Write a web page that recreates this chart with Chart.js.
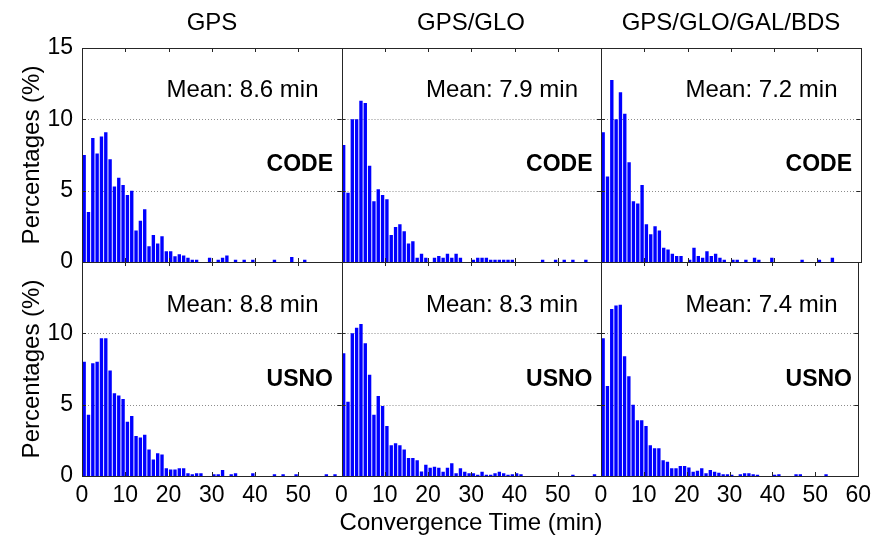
<!DOCTYPE html>
<html>
<head>
<meta charset="utf-8">
<script src="https://cdn.jsdelivr.net/npm/chart.js@4/dist/chart.umd.min.js"></script>
<style>
  html, body { margin: 0; padding: 0; background: #ffffff; }
  #wrap { position: relative; width: 877px; height: 541px; overflow: hidden; font-family: "Liberation Sans", Arial, sans-serif; color: #000; }
  canvas.panel { position: absolute; left: 0; top: 0; }
  .txt { position: absolute; white-space: nowrap; line-height: 30px; height: 30px; font-size: 24px; }
  .c { transform: translateX(-50%); }
  .r { transform: translateX(-100%); }
  .b { font-weight: bold; font-size: 23px; }
  .rot { transform: translate(-50%, -50%) rotate(-90deg); }
</style>
</head>
<body>
<div id="wrap">
  <canvas class="panel" id="p0" width="877" height="541"></canvas>
  <canvas class="panel" id="p1" width="877" height="541"></canvas>
  <canvas class="panel" id="p2" width="877" height="541"></canvas>
  <canvas class="panel" id="p3" width="877" height="541"></canvas>
  <canvas class="panel" id="p4" width="877" height="541"></canvas>
  <canvas class="panel" id="p5" width="877" height="541"></canvas>

  <div class="txt c" style="left:212px; top:7px;">GPS</div>
  <div class="txt c" style="left:471px; top:7px;">GPS/GLO</div>
  <div class="txt c" style="left:731px; top:7px;">GPS/GLO/GAL/BDS</div>

  <div class="txt r" style="left:318.5px; top:74px;">Mean: 8.6 min</div>
  <div class="txt r" style="left:578px; top:74px;">Mean: 7.9 min</div>
  <div class="txt r" style="left:837.5px; top:74px;">Mean: 7.2 min</div>
  <div class="txt r" style="left:318.5px; top:289px;">Mean: 8.8 min</div>
  <div class="txt r" style="left:578px; top:289px;">Mean: 8.3 min</div>
  <div class="txt r" style="left:837.5px; top:289px;">Mean: 7.4 min</div>

  <div class="txt r b" style="left:333px; top:148px;">CODE</div>
  <div class="txt r b" style="left:592.5px; top:148px;">CODE</div>
  <div class="txt r b" style="left:852px; top:148px;">CODE</div>
  <div class="txt r b" style="left:333px; top:363px;">USNO</div>
  <div class="txt r b" style="left:592.5px; top:363px;">USNO</div>
  <div class="txt r b" style="left:852px; top:363px;">USNO</div>

  <div class="txt rot" style="left:31px; top:155px;">Percentages (%)</div>
  <div class="txt rot" style="left:31px; top:369px;">Percentages (%)</div>
  <div class="txt c" style="left:471px; top:507px;">Convergence Time (min)</div>
</div>

<script>
// ---- data: histogram bins of 1 minute (bin start, minutes) ----
const binStart = [0,1,2,3,4,5,6,7,8,9,10,11,12,13,14,15,16,17,18,19,
                  20,21,22,23,24,25,26,27,28,29,30,31,32,33,34,35,36,37,38,39,
                  40,41,42,43,44,45,46,47,48,49,50,51,52,53,54,55,56,57,58,59];

const xTickLabels = [0, 10, 20, 30, 40, 50, 60];
const yTickLabels = [0, 5, 10, 15];

const systems = ["GPS", "GPS/GLO", "GPS/GLO/GAL/BDS"];
const products = ["CODE", "USNO"];

// Percentages (%) per bin
const gpsCode = [7.5,3.5,8.7,7.6,8.8,9.1,7.2,5.3,5.9,5.4,4.7,5.0,2.2,2.9,3.7,1.1,1.9,1.3,1.8,0.75,
                 0.75,0.4,0.55,0.45,0.3,0.15,0.15,0,0,0.3,0,0.15,0.3,0.45,0,0.15,0,0.15,0,0.15,
                 0,0,0,0,0.15,0,0,0,0.35,0,0,0.15,0,0,0,0,0,0,0,0];
const gloCode = [8.2,4.85,10.0,10.0,11.3,11.15,6.75,4.25,5.1,4.7,4.4,1.9,2.45,2.65,2.15,1.3,1.45,0.3,0.58,0.3,
                 0,0.3,0.42,0.3,0.58,0.3,0.58,0.3,0,0,0.15,0.3,0.3,0.3,0.15,0.15,0.15,0.15,0.15,0.15,
                 0,0,0,0,0,0,0.15,0,0,0.15,0,0.15,0,0.15,0,0,0.15,0,0,0];
const allCode = [9.1,6.0,12.75,10.0,11.9,10.4,7.0,4.25,4.1,5.4,2.65,1.95,2.5,2.2,1.0,0.88,0.58,0.42,0.42,0,
                 0.15,1.0,0.42,0.3,0.75,0.42,0.58,0.3,0.15,0,0.15,0.15,0,0.15,0,0.3,0.15,0,0,0.3,
                 0,0,0,0,0,0,0.15,0,0,0,0.15,0,0,0.3,0,0,0,0,0,0];
const gpsUsno = [8.0,4.3,7.9,8.0,9.65,9.65,7.4,5.8,5.65,5.4,3.8,4.2,2.8,2.7,2.9,1.85,1.15,1.6,1.5,0.55,
                 0.45,0.45,0.55,0.55,0.2,0.12,0.2,0.2,0,0,0.12,0.12,0.42,0,0.12,0.2,0,0,0,0.2,
                 0,0,0,0,0.12,0,0.12,0,0,0.12,0,0,0,0,0,0,0.12,0,0.12,0];
const gloUsno = [8.6,5.2,10.0,10.4,10.65,9.3,7.1,4.3,5.6,4.9,3.5,2.15,2.3,2.15,1.85,1.27,1.27,1.1,0.32,0.78,
                 0.58,0.65,0.58,0.3,0.58,0.9,0.2,0.55,0.3,0.2,0.2,0.08,0.3,0.08,0.08,0.2,0.3,0.2,0.08,0.12,
                 0.2,0.12,0,0,0,0,0,0,0,0,0,0,0,0.08,0,0,0,0,0.12,0];
const allUsno = [9.65,6.3,11.7,11.95,12.0,8.4,7.0,5.0,3.9,3.9,3.5,2.15,1.95,1.95,1.1,1.0,0.55,0.55,0.7,0.7,
                 0.6,0.3,0.37,0.55,0.2,0.42,0.3,0.23,0.12,0.12,0.08,0,0.12,0.2,0.2,0.12,0.08,0,0,0,
                 0.08,0.12,0,0,0,0.12,0.12,0,0,0,0,0,0.12,0,0,0,0,0,0,0];

const panelSeries = [gpsCode, gloCode, allCode, gpsUsno, gloUsno, allUsno];

// ---- layout ----
const W = 877, H = 541;
const colX = [82, 341.5, 601, 860.5];
const rowY = [48, 262, 476];
const YBOX = 45, XBOX = 40;   // space reserved for tick labels (scale boxes)
const FONT = "'Liberation Sans', Arial, sans-serif";
const FRAME = '#262626';

const framePlugin = {
  id: 'frame',
  beforeDatasetsDraw(chart) {
    const {ctx, chartArea: a, scales: {y}} = chart;
    ctx.save();
    ctx.strokeStyle = '#8c8c8c';
    ctx.lineWidth = 1;
    ctx.setLineDash([1, 2]);
    [5, 10].forEach(v => {
      const py = Math.round(y.getPixelForValue(v)) + 0.5;
      ctx.beginPath(); ctx.moveTo(a.left, py); ctx.lineTo(a.right, py); ctx.stroke();
    });
    ctx.restore();
  },
  afterDraw(chart) {
    const {ctx, chartArea: a, scales: {x, y}} = chart;
    ctx.save();
    ctx.strokeStyle = FRAME;
    ctx.lineWidth = 1;
    ctx.setLineDash([]);
    ctx.strokeRect(Math.round(a.left) + 0.5, Math.round(a.top) + 0.5,
                   Math.round(a.right) - Math.round(a.left), Math.round(a.bottom) - Math.round(a.top));
    const tl = 4;
    ctx.beginPath();
    [10, 20, 30, 40, 50].forEach(v => {
      const px = Math.round(x.getPixelForValue(v)) + 0.5;
      ctx.moveTo(px, a.bottom); ctx.lineTo(px, a.bottom - tl);
      ctx.moveTo(px, a.top); ctx.lineTo(px, a.top + tl);
    });
    [5, 10].forEach(v => {
      const py = Math.round(y.getPixelForValue(v)) + 0.5;
      ctx.moveTo(a.left, py); ctx.lineTo(a.left + tl, py);
      ctx.moveTo(a.right, py); ctx.lineTo(a.right - tl, py);
    });
    ctx.stroke();
    ctx.restore();
  }
};

function makePanel(idx) {
  const row = Math.floor(idx / 3), col = idx % 3;
  const vals = panelSeries[idx];
  const data = binStart.map((b, i) => ({x: b + 0.5, y: vals[i]}));
  const showX = row === 1;
  const showY = col === 0;
  const hideTopY = row === 1;      // 15 label only on top row
  const hideLastX = col < 2;       // 60 label only on last column

  new Chart(document.getElementById('p' + idx), {
    type: 'bar',
    data: {
      datasets: [{
        label: systems[col] + ' ' + products[row],
        data: data,
        backgroundColor: '#0000ff',
        borderWidth: 0,
        barPercentage: 0.78,
        categoryPercentage: 1.0
      }]
    },
    options: {
      responsive: false,
      animation: false,
      events: [],
      devicePixelRatio: 1,
      layout: {
        padding: {
          left: colX[col] - YBOX,
          right: W - colX[col + 1],
          top: rowY[row],
          bottom: H - rowY[row + 1] - XBOX
        }
      },
      plugins: { legend: { display: false }, tooltip: { enabled: false }, title: { display: false } },
      scales: {
        x: {
          type: 'linear', min: 0, max: 60, offset: false,
          grid: { display: false, drawTicks: false },
          border: { display: false },
          afterBuildTicks(s) { s.ticks = xTickLabels.map(v => ({value: v})); },
          ticks: {
            display: showX, autoSkip: false, maxRotation: 0, minRotation: 0, padding: 6,
            color: '#000', font: { family: FONT, size: 23 },
            callback: v => (hideLastX && v === 60) ? '' : String(v)
          },
          afterFit(s) { s.height = XBOX; }
        },
        y: {
          type: 'linear', min: 0, max: 15,
          grid: { display: false, drawTicks: false },
          border: { display: false },
          afterBuildTicks(s) { s.ticks = yTickLabels.map(v => ({value: v})); },
          ticks: {
            display: showY, autoSkip: false, padding: 9,
            color: '#000', font: { family: FONT, size: 23 },
            callback: v => (hideTopY && v === 15) ? '' : String(v)
          },
          afterFit(s) { s.width = YBOX; }
        }
      }
    },
    plugins: [framePlugin]
  });
}

for (let i = 0; i < 6; i++) makePanel(i);
</script>
</body>
</html>
